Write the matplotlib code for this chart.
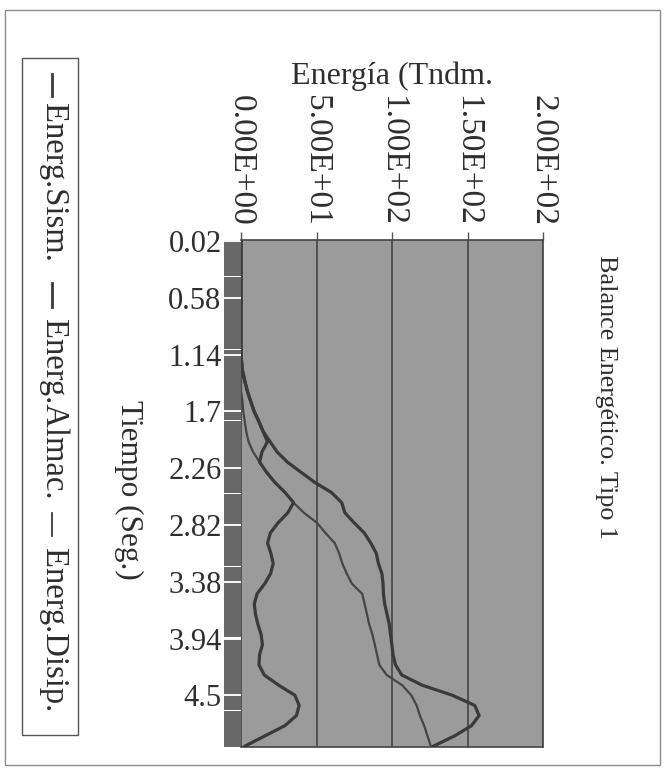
import matplotlib
matplotlib.use("Agg")
import matplotlib.pyplot as plt
from matplotlib.lines import Line2D
from matplotlib.patches import Rectangle

# ---------------- data ----------------
tiempo = [0.02, 0.1, 0.2, 0.3, 0.4, 0.5, 0.6, 0.7, 0.8, 0.9, 1.0,
          1.1, 1.2, 1.3, 1.4, 1.5, 1.6, 1.7, 1.8, 1.9, 2.0,
          2.1, 2.2, 2.3, 2.4, 2.5, 2.6, 2.7, 2.8, 2.9, 3.0,
          3.1, 3.2, 3.3, 3.4, 3.5, 3.6, 3.7, 3.8, 3.9, 4.0,
          4.1, 4.2, 4.3, 4.4, 4.5, 4.6, 4.7, 4.8, 4.9, 5.0]

energ_sism = [0, 0, 0, 0, 0, 0, 0, 0, 0, 0, 0,
              0, 0.3, 1.0, 2.5, 4.2, 6.4, 8.7, 11.8, 14.7, 19.3,
              23.9, 30.7, 39.7, 48.8, 59.9, 66.7, 68.8, 75.0, 81.7, 86.0,
              89.6, 91.0, 93.3, 94.1, 94.3, 95.2, 96.7, 98.2, 99.0, 99.9,
              100.7, 102.3, 106.5, 119.9, 140.0, 154.8, 157.7, 152.6, 141.5, 127.7]

energ_almac = [0, 0, 0, 0, 0, 0, 0, 0, 0, 0, 0,
               0, 0.3, 1.0, 2.5, 4.2, 6.4, 8.7, 11.8, 14.7, 17.5,
               13.9, 12.3, 16.9, 22.4, 29.2, 34.8, 31.0, 24.5, 19.4, 17.6,
               19.8, 21.3, 19.6, 15.7, 10.6, 8.8, 9.6, 11.2, 13.3, 14.2,
               12.3, 11.9, 15.4, 24.9, 35.7, 38.5, 36.7, 29.0, 15.9, 2.8]

energ_disip = [0, 0, 0, 0, 0, 0, 0, 0, 0, 0, 0,
               0, 0, 0, 0, 0, 1.0, 1.5, 2.5, 3.5, 5.0,
               8.0, 12.3, 16.9, 22.4, 29.2, 34.8, 41.6, 50.4, 56.0, 62.1,
               65.0, 67.1, 70.0, 73.5, 80.3, 81.9, 83.4, 84.9, 87.0, 88.6,
               90.1, 91.6, 96.5, 106.7, 112.8, 116.3, 118.5, 121.3, 123.5, 125.7]

time_ticks = [0.02, 0.58, 1.14, 1.7, 2.26, 2.82, 3.38, 3.94, 4.5]
time_labels = ["0.02", "0.58", "1.14", "1.7", "2.26", "2.82", "3.38", "3.94", "4.5"]
energy_ticks = [0, 50, 100, 150, 200]
energy_labels = ["0.00E+00", "5.00E+01", "1.00E+02", "1.50E+02", "2.00E+02"]
all_steps = [0.02 * (i + 1) for i in range(250)]

title = "Balance Energético. Tipo 1"
xlabel = "Energía (Tndm."
ylabel = "Tiempo (Seg.)"
series_names = ["Energ.Sism.", "Energ.Almac.", "Energ.Disip."]

# ---------------- style ----------------
W, H = 664, 773
SERIF = ["Liberation Serif", "DejaVu Serif"]
TXT = "#2e2e2e"
LINE = "#3a3a3a"
plt.rcParams["font.family"] = SERIF

fig = plt.figure(figsize=(W / 100, H / 100), dpi=100)
fig.patch.set_facecolor("white")

def fx(x):
    return x / W

def fy(y):
    return 1 - y / H

L, R, T, B = 241, 543, 240, 747
ax = fig.add_axes([fx(L), fy(B), fx(R) - fx(L), fy(T) - fy(B)])
ax.set_facecolor("#9b9b9b")

ax.plot(energ_sism, tiempo, color=LINE, lw=2.3, solid_joinstyle="round", zorder=4)
ax.plot(energ_almac, tiempo, color=LINE, lw=2.3, solid_joinstyle="round", zorder=4)
ax.plot(energ_disip, tiempo, color="#454545", lw=1.6, solid_joinstyle="round", zorder=3)

ax.set_xlim(0, 200)
ax.set_ylim(5.01, 0.01)

# energy axis on top
ax.xaxis.tick_top()
ax.xaxis.set_label_position("top")
ax.set_xticks(energy_ticks)
ax.set_xticklabels(energy_labels, rotation=-90, fontsize=24, color=TXT)
ax.tick_params(axis="x", which="major", length=6, width=1, color="#555", pad=4)
ax.set_xlabel(xlabel, fontsize=23, color=TXT, labelpad=8)
ax.grid(axis="x", color="#3c3c3c", lw=1.1)

# time axis on left
ax.set_yticks(time_ticks)
ax.set_yticklabels(time_labels, fontsize=22, color=TXT)
ax.set_yticks(all_steps, minor=True)
ax.tick_params(axis="y", which="minor", length=12, width=1.2, color="#4a4a4a")
ax.tick_params(axis="y", which="major", length=12, width=1.2, color="#f2f2f2", pad=2)

for s in ax.spines.values():
    s.set_color("#444")
    s.set_linewidth(1.2)
ax.spines["left"].set_visible(False)

# axis titles (rotated)
fig.text(fx(129), fy(490), ylabel, rotation=-90, ha="center", va="center",
         fontsize=22.5, color=TXT)
fig.text(fx(606), fy(397), title, rotation=-90, ha="center", va="center",
         fontsize=18.8, color=TXT)

# legend box (rotated layout)
fig.add_artist(Rectangle((fx(22), fy(735)), fx(78) - fx(22), fy(58) - fy(735),
                         transform=fig.transFigure, fill=False, ec="#555", lw=1.0))
entries = [(series_names[0], 74, 96, 262, 2.0),
           (series_names[1], 283, 307, 500, 2.0),
           (series_names[2], 513, 536, 712, 1.3)]
for name, y0, y1, yend, lw in entries:
    fig.add_artist(Line2D([fx(52), fx(52)], [fy(y0), fy(y1)], transform=fig.transFigure,
                          color=LINE, lw=lw))
    fig.text(fx(53), fy(yend), name, rotation=-90, ha="center", va="bottom",
             fontsize=23.5, color=TXT)

# outer frame
fig.add_artist(Rectangle((fx(5), fy(765)), fx(660) - fx(5), fy(10) - fy(765),
                         transform=fig.transFigure, fill=False, ec="#8a8a8a", lw=1.0))

fig.savefig("out.png", dpi=100)
